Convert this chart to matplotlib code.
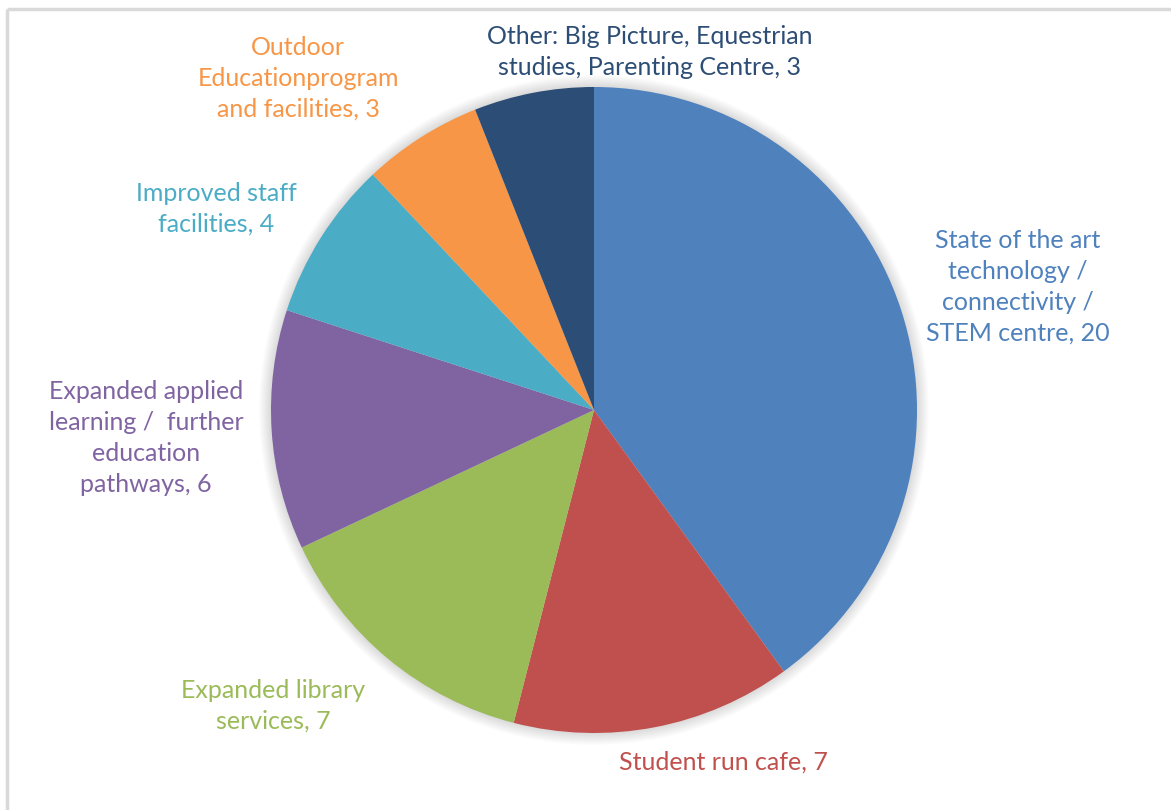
import matplotlib.pyplot as plt
from matplotlib.patches import Circle

# pie data, clockwise from 12 o'clock
labels = ['State of the art\ntechnology /\nconnectivity /\nSTEM centre',
          'Student run cafe',
          'Expanded library\nservices',
          'Expanded applied\nlearning /  further\neducation\npathways',
          'Improved staff\nfacilities',
          'Outdoor\nEducationprogram\nand facilities',
          'Other: Big Picture, Equestrian\nstudies, Parenting Centre']
values = [20, 7, 7, 6, 4, 3, 3]
colors = ['#4F81BD', '#C0504D', '#9BBB59', '#8064A2', '#4BACC6', '#F79646', '#2C4D75']

# label anchor points (pixel coords, y measured from top)
label_xy = [(1018, 287), (723, 762), (273, 706), (146, 438),
            (216, 209), (298, 78), (650, 52)]

W, H = 1171, 810
plt.rcParams['font.family'] = ['Lato', 'DejaVu Sans']

fig = plt.figure(figsize=(W / 100, H / 100), dpi=100)
ax = fig.add_axes([0, 0, 1, 1])

cx, cy, r = 594, H - 410, 323

# soft glow behind the pie
for k in range(12, 0, -1):
    ax.add_patch(Circle((cx, cy), r + k, color='#000000', alpha=0.012, lw=0, zorder=0))

ax.pie(values, colors=colors, startangle=90, counterclock=False,
       center=(cx, cy), radius=r, wedgeprops=dict(linewidth=0),
       frame=False)

for lab, v, c, (x, y) in zip(labels, values, colors, label_xy):
    ax.text(x, H - y, f'{lab}, {v}', color=c, fontsize=18, ha='center', va='center',
            linespacing=1.42)

ax.set_xlim(0, W)
ax.set_ylim(0, H)
ax.set_aspect('equal')
ax.axis('off')

# light frame on the left and top edges
ax.plot([7, 7], [0, H - 9], color='#D9D9D9', lw=2.5, solid_capstyle='butt')
ax.plot([7, W], [H - 9, H - 9], color='#D9D9D9', lw=2.5, solid_capstyle='butt')

fig.savefig('out.png', dpi=100)
